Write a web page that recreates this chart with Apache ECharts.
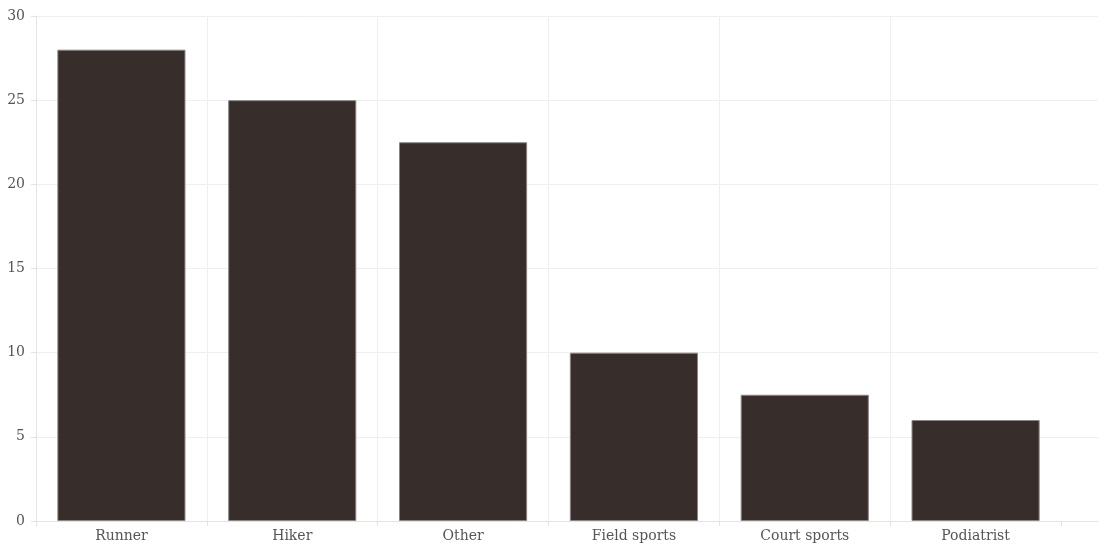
<!DOCTYPE html>
<html><head><meta charset="utf-8">
<script src="https://cdn.jsdelivr.net/npm/echarts@6/dist/echarts.min.js"></script>
<style>html,body{margin:0;padding:0;background:#fff}#c{width:1099px;height:549px}</style>
</head><body><div id="c"></div>
<script>
const categories = ["Runner", "Hiker", "Other", "Field sports", "Court sports", "Podiatrist"];
const values = [28, 25, 22.5, 10, 7.5, 6];
const yTicks = [0, 5, 10, 15, 20, 25, 30];

const font = "'DejaVu Serif', Georgia, 'Liberation Serif', serif";
const yMin = yTicks[0], yMax = yTicks[yTicks.length - 1];
const chart = echarts.init(document.getElementById('c'));
chart.setOption({
  animation: false,
  grid: [
    { left: 36, right: 1, top: 16, bottom: 28 },
    { left: 36, right: 38, top: 16, bottom: 28 }
  ],
  xAxis: [
    { gridIndex: 0, type: 'value', min: 0, max: 1,
      axisLine: { show: true, lineStyle: { color: '#e3e3e3' } },
      axisTick: { show: false }, axisLabel: { show: false }, splitLine: { show: false } },
    { gridIndex: 1, type: 'category', data: categories,
      axisLine: { show: false },
      axisTick: { show: true, length: 5, lineStyle: { color: '#e3e3e3' } },
      splitLine: { show: true, showMinLine: false, showMaxLine: false, lineStyle: { color: '#efefef' } },
      axisLabel: { color: '#555', fontFamily: font, fontSize: 14, margin: 8 } }
  ],
  yAxis: [
    { gridIndex: 0, type: 'value', min: yMin, max: yMax, interval: 5,
      axisLine: { show: true, lineStyle: { color: '#e3e3e3' } },
      axisTick: { show: true, length: 5, lineStyle: { color: '#e3e3e3' } },
      splitLine: { show: true, lineStyle: { color: '#efefef' } },
      axisLabel: { color: '#555', fontFamily: font, fontSize: 14, margin: 11 } },
    { gridIndex: 1, type: 'value', min: yMin, max: yMax, interval: 5, show: false }
  ],
  series: [{
    type: 'bar', xAxisIndex: 1, yAxisIndex: 1, data: values, barWidth: '75%',
    itemStyle: { color: '#372d2a', borderColor: '#8a8584', borderWidth: 1 }
  }]
});
</script></body></html>
